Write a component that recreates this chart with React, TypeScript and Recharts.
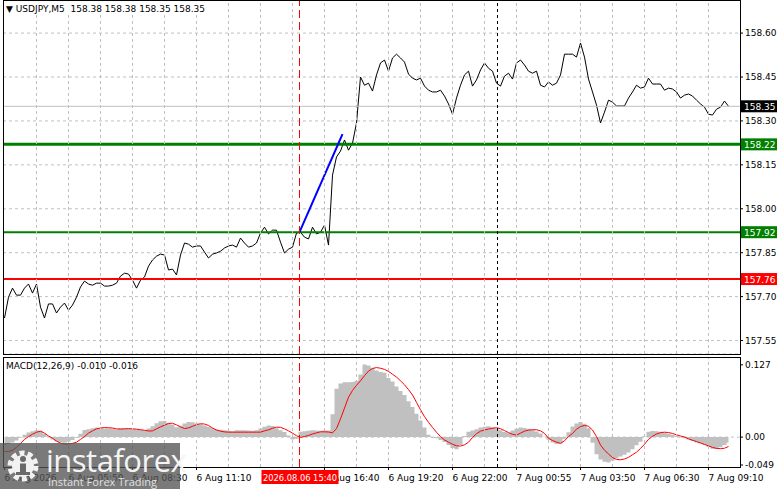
import {
  ComposedChart,
  Line,
  Area,
  XAxis,
  YAxis,
  CartesianGrid,
  ReferenceLine,
} from "recharts";

// USDJPY M5, one sample every 2 bars (x in bar units)
const prices = [
  157.627, 157.698, 157.729, 157.705, 157.705, 157.729, 157.743, 157.712, 157.743, 157.664,
  157.627, 157.675, 157.675, 157.644, 157.664, 157.678, 157.654, 157.671, 157.698, 157.733,
  157.753, 157.743, 157.739, 157.746, 157.746, 157.736, 157.736, 157.739, 157.746, 157.77,
  157.78, 157.777, 157.756, 157.729, 157.756, 157.767, 157.804, 157.825, 157.838, 157.845,
  157.842, 157.791, 157.794, 157.774, 157.842, 157.883, 157.879, 157.869, 157.873, 157.873,
  157.852, 157.832, 157.845, 157.849, 157.855, 157.866, 157.873, 157.876, 157.869, 157.9,
  157.883, 157.869, 157.873, 157.883, 157.917, 157.937, 157.914, 157.927, 157.927, 157.886,
  157.849, 157.862, 157.869, 157.917, 157.92, 157.903, 157.897, 157.937, 157.914, 157.92,
  157.944, 157.876, 158.115, 158.177, 158.197, 158.235, 158.2, 158.224, 158.293, 158.45,
  158.422, 158.429, 158.402, 158.457, 158.498, 158.508, 158.47, 158.515, 158.528, 158.515,
  158.501, 158.46, 158.446, 158.44, 158.446, 158.419, 158.405, 158.399, 158.399, 158.405,
  158.385, 158.358, 158.323, 158.378, 158.422, 158.457, 158.47, 158.419, 158.44, 158.474,
  158.498, 158.48, 158.47, 158.429, 158.419, 158.453, 158.463, 158.443, 158.498, 158.508,
  158.491, 158.47, 158.463, 158.47, 158.422, 158.416, 158.433, 158.422, 158.429, 158.457,
  158.528, 158.528, 158.528, 158.518, 158.566, 158.518, 158.443, 158.399, 158.354, 158.293,
  158.33, 158.371, 158.364, 158.351, 158.351, 158.351, 158.378, 158.399, 158.422, 158.412,
  158.416, 158.446, 158.426, 158.426, 158.426, 158.405, 158.412, 158.409, 158.399, 158.378,
  158.388, 158.392, 158.385, 158.371, 158.358, 158.347, 158.323, 158.32, 158.34, 158.347,
  158.368, 158.35,
];

const macdMain = [
  -0.0139, -0.012, -0.0095, -0.006, -0.001, 0.004, 0.008, 0.0105, 0.012, 0.011,
  0.006, 0.0005, -0.004, -0.0075, -0.009, -0.0099, -0.008, -0.005, -0.001, 0.006,
  0.0125, 0.014, 0.0155, 0.0168, 0.016, 0.015, 0.015, 0.0145, 0.0135, 0.015,
  0.015, 0.0145, 0.0142, 0.0135, 0.0128, 0.0122, 0.015, 0.019, 0.0245, 0.028,
  0.0284, 0.025, 0.022, 0.0175, 0.02, 0.024, 0.0265, 0.0262, 0.024, 0.0225,
  0.0205, 0.018, 0.0155, 0.0135, 0.0128, 0.012, 0.011, 0.0104, 0.012, 0.0122,
  0.0122, 0.0115, 0.011, 0.012, 0.015, 0.018, 0.0205, 0.0195, 0.0155, 0.012,
  0.009, 0.003, -0.004, -0.003, 0.0093, 0.0105, 0.0112, 0.0122, 0.0115, 0.011,
  0.0118, 0.0115, 0.04, 0.085, 0.094, 0.0962, 0.0962, 0.097, 0.099, 0.11,
  0.1275, 0.126, 0.122, 0.117, 0.1145, 0.113, 0.104, 0.0975, 0.089, 0.081,
  0.074, 0.063, 0.053, 0.041, 0.029, 0.017, 0.004, -0.001, -0.002, -0.005,
  -0.0085, -0.014, -0.019, -0.0215, -0.0139, 0.002, 0.0095, 0.0115, 0.014, 0.0168,
  0.018, 0.019, 0.0172, 0.0145, 0.0122, 0.009, 0.0075, 0.0115, 0.0145, 0.0168,
  0.016, 0.0145, 0.0125, 0.01, 0.0064, 0.0005, -0.0045, -0.0095, -0.012, -0.011,
  -0.003, 0.0085, 0.0185, 0.024, 0.0267, 0.0235, 0.0155, -0.01, -0.03, -0.0395,
  -0.0432, -0.0446, -0.0415, -0.037, -0.0342, -0.031, -0.027, -0.0215, -0.0145, -0.0081,
  0.001, 0.0095, 0.0108, 0.0102, 0.0093, 0.0075, 0.006, 0.004, 0.0015, -0.0006,
  -0.002, -0.004, -0.007, -0.0095, -0.011, -0.014, -0.0175, -0.0205, -0.021, -0.018,
  -0.014, -0.01,
];

const macdSignal = [
  -0.0255, -0.0255, -0.023, -0.018, -0.011, -0.004, 0.001, 0.005, 0.0085, 0.0104,
  0.007, 0.002, -0.002, -0.007, -0.0105, -0.0122, -0.012, -0.011, -0.009, -0.004,
  0.001, 0.007, 0.011, 0.0145, 0.016, 0.0168, 0.0165, 0.016, 0.0145, 0.0142,
  0.0145, 0.015, 0.0145, 0.014, 0.013, 0.012, 0.0108, 0.011, 0.0145, 0.018,
  0.021, 0.024, 0.0245, 0.0215, 0.018, 0.015, 0.0162, 0.019, 0.022, 0.0235,
  0.023, 0.0205, 0.016, 0.0125, 0.0104, 0.0092, 0.0087, 0.0087, 0.0087, 0.0087,
  0.0087, 0.0087, 0.0087, 0.0087, 0.0087, 0.011, 0.0128, 0.0155, 0.0175, 0.0172,
  0.0145, 0.011, 0.007, 0.0025, -0.0006, 0.001, 0.003, 0.0055, 0.0075, 0.0093,
  0.0093, 0.009, 0.0075, 0.015, 0.032, 0.051, 0.07, 0.082, 0.091, 0.099,
  0.108, 0.116, 0.1205, 0.1222, 0.121, 0.119, 0.1155, 0.1105, 0.1055, 0.099,
  0.092, 0.0835, 0.074, 0.061, 0.048, 0.036, 0.026, 0.017, 0.0085, 0.001,
  -0.005, -0.009, -0.0125, -0.0152, -0.0157, -0.0135, -0.009, -0.0006, 0.006, 0.0105,
  0.0125, 0.0142, 0.0155, 0.0165, 0.0148, 0.0115, 0.008, 0.005, 0.0035, 0.007,
  0.0105, 0.0122, 0.013, 0.013, 0.011, 0.0065, -0.002, -0.006, -0.0088, -0.011,
  -0.0065, 0.001, 0.0064, 0.014, 0.0185, 0.0205, 0.019, 0.0125, 0.001, -0.0139,
  -0.023, -0.0295, -0.036, -0.0392, -0.0398, -0.0385, -0.0355, -0.031, -0.0265, -0.02,
  -0.0125, -0.004, 0.0015, 0.0055, 0.0078, 0.0087, 0.008, 0.0065, 0.004, 0.002,
  0.0002, -0.003, -0.0055, -0.0078, -0.0102, -0.0128, -0.0155, -0.018, -0.0198, -0.0203,
  -0.0195, -0.0165,
];

const priceTicks = [158.6, 158.45, 158.3, 158.15, 158.0, 157.85, 157.7, 157.55];
const macdTicks = [0.127, 0, -0.049];
const gridBars = [16, 32, 48, 64, 80, 96, 112, 128, 144, 160, 176, 192, 208, 224, 240, 256, 272, 288, 304, 320, 336, 352];
const labelBars = [0, 32, 64, 96, 128, 160, 192, 224, 256, 288, 320, 352];
const timeLabels = [
  "6 Aug 2026", "6 Aug 05:50", "6 Aug 08:30", "6 Aug 11:10", "", "6 Aug 16:40",
  "6 Aug 19:20", "6 Aug 22:00", "7 Aug 00:55", "7 Aug 03:50", "7 Aug 06:30", "7 Aug 09:10",
];
const axisBars = [0, ...gridBars];

const lastPrice = 158.35;
const resistance = 158.22;
const support = 157.92;
const stopLevel = 157.76;
const cursorBar = 147.5;
const cursorTime = "2026.08.06 15:40";
const sessionBar = 246.5;
const trendFrom = { bar: 147.5, price: 157.92 };
const trendTo = { bar: 169, price: 158.255 };

const data = prices.map((p, i) => ({
  bar: i * 2,
  price: p,
  hist: macdMain[i],
  signal: macdSignal[i],
}));

const FONT = "'DejaVu Sans', Tahoma, sans-serif";
const CHART_W = 781;
const PLOT_LEFT = 3;
const AXIS_W = 41;
const MAIN_H = 355;
const MACD_H = 131;
const TIME_AXIS_H = 22;
// 2px per bar; the quarter-bar offset puts 1px lines on pixel centres
const X_DOMAIN: [number, number] = [-0.75, 367.75];
const GRID = "#c0c0c0";

function PriceTag({ viewBox, text, bg }: any) {
  if (!viewBox) return null;
  const x = viewBox.x + viewBox.width;
  const y = viewBox.y;
  return (
    <g>
      <rect x={x + 1} y={y - 6} width={36} height={12} fill={bg} />
      <text x={x + 4} y={y + 3.5} fill="#ffffff" fontSize={9} fontFamily={FONT}>
        {text}
      </text>
    </g>
  );
}

function CursorTag({ viewBox }: any) {
  if (!viewBox) return null;
  const cx = viewBox.x;
  const y = viewBox.y + viewBox.height;
  return (
    <g>
      <rect x={cx - 38} y={y + 3} width={77} height={14} fill="#ff0000" />
      <text x={cx + 0.5} y={y + 13.5} fill="#ffffff" fontSize={8.3} fontFamily={FONT} textAnchor="middle">
        {cursorTime}
      </text>
    </g>
  );
}

// vertical dashed grid line drawn from the axis up through the plot
function GridTick({ x, y, payload, span }: any) {
  if (!gridBars.includes(payload.value)) return <g />;
  return <line x1={x} x2={x} y1={y} y2={y - span} stroke={GRID} strokeDasharray="3 3" />;
}

function TimeTick({ x, y, payload }: any) {
  const idx = labelBars.indexOf(payload.value);
  const label = idx >= 0 ? timeLabels[idx] : "";
  return (
    <g>
      <GridTick x={x} y={y} payload={payload} span={MACD_H - TIME_AXIS_H} />
      {label ? (
        <>
          <line x1={x} x2={x} y1={y} y2={y + 3} stroke="#000" />
          <text x={x} y={y + 14} fill="#000" fontSize={9} fontFamily={FONT} textAnchor="start">
            {label}
          </text>
        </>
      ) : null}
    </g>
  );
}

function Gear() {
  return (
    <svg width={38} height={40} style={{ position: "absolute", left: 4, top: 3 }}>
      <circle cx={19} cy={20} r={13} fill="none" stroke="#f2f2f2" strokeWidth={5} strokeDasharray="5 3.2" />
      <circle cx={19} cy={20} r={11} fill="#f2f2f2" />
      <circle cx={19} cy={13} r={3} fill="#6a6a6a" />
      <rect x={16} y={17.5} width={6} height={10} fill="#6a6a6a" />
      <rect x={12} y={26} width={14} height={3} fill="#6a6a6a" />
    </svg>
  );
}

export default function App() {
  return (
    <div style={{ position: "relative", width: 781, height: 489, background: "#fff", fontFamily: FONT, overflow: "hidden" }}>
      <style>{"body{margin:0}"}</style>

      {/* price window */}
      <div style={{ position: "absolute", left: 0, top: 0 }}>
        <ComposedChart width={CHART_W} height={MAIN_H} data={data} margin={{ top: 0, right: 0, bottom: 0, left: PLOT_LEFT }}>
          <CartesianGrid stroke={GRID} strokeDasharray="3 3" vertical={false} />
          <XAxis
            type="number"
            dataKey="bar"
            domain={X_DOMAIN}
            ticks={gridBars}
            interval={0}
            height={1}
            tickSize={0}
            tickMargin={0}
            tickLine={false}
            axisLine={false}
            tick={(props: any) => <GridTick {...props} span={MAIN_H} />}
            allowDataOverflow
          />
          <YAxis
            orientation="right"
            width={AXIS_W}
            domain={[157.504, 158.713]}
            ticks={priceTicks}
            interval={0}
            tickFormatter={(v: number) => v.toFixed(2)}
            tick={{ fontSize: 9, fill: "#000", fontFamily: FONT }}
            tickLine={{ stroke: "#000" }}
            tickSize={3}
            axisLine={false}
            allowDataOverflow
          />
          <Line type="linear" dataKey="price" stroke="#000" strokeWidth={1} dot={false} isAnimationActive={false} />
          <ReferenceLine y={lastPrice} stroke="#c0c0c0" strokeWidth={1} label={<PriceTag text="158.35" bg="#000000" />} />
          <ReferenceLine y={resistance} stroke="#008000" strokeWidth={3} label={<PriceTag text="158.22" bg="#008000" />} />
          <ReferenceLine y={support} stroke="#008000" strokeWidth={2} label={<PriceTag text="157.92" bg="#008000" />} />
          <ReferenceLine y={stopLevel} stroke="#ff0000" strokeWidth={2} label={<PriceTag text="157.76" bg="#ff0000" />} />
          <ReferenceLine
            segment={[
              { x: trendFrom.bar, y: trendFrom.price },
              { x: trendTo.bar, y: trendTo.price },
            ]}
            stroke="#0000ff"
            strokeWidth={2}
          />
          <ReferenceLine x={sessionBar} stroke="#000" strokeDasharray="3 3" />
          <ReferenceLine x={cursorBar} stroke="#ff0000" strokeDasharray="8 4" />
        </ComposedChart>
      </div>
      <div style={{ position: "absolute", left: 3, top: 0, width: 738, height: 355, border: "1px solid #000", boxSizing: "border-box", pointerEvents: "none" }} />
      <div style={{ position: "absolute", left: 6, top: 3, fontSize: 9, whiteSpace: "pre", color: "#000", background: "#fff", lineHeight: "12px" }}>
        {"▼ USDJPY,M5  158.38 158.38 158.35 158.35"}
      </div>

      {/* MACD window */}
      <div style={{ position: "absolute", left: 0, top: 358 }}>
        <ComposedChart width={CHART_W} height={MACD_H} data={data} margin={{ top: 0, right: 0, bottom: 0, left: PLOT_LEFT }}>
          <XAxis
            type="number"
            dataKey="bar"
            domain={X_DOMAIN}
            ticks={axisBars}
            interval={0}
            height={TIME_AXIS_H}
            tickSize={0}
            tickMargin={0}
            tickLine={false}
            axisLine={false}
            tick={(props: any) => <TimeTick {...props} />}
            allowDataOverflow
          />
          <YAxis
            orientation="right"
            width={AXIS_W}
            domain={[-0.0525, 0.139]}
            ticks={macdTicks}
            interval={0}
            tickFormatter={(v: number) => (v === 0 ? "0.00" : String(v))}
            tick={{ fontSize: 9, fill: "#000", fontFamily: FONT }}
            tickLine={{ stroke: "#000" }}
            tickSize={3}
            axisLine={false}
            allowDataOverflow
          />
          <ReferenceLine y={0} stroke={GRID} strokeDasharray="3 3" />
          <Area
            type="step"
            dataKey="hist"
            baseValue={0}
            stroke="none"
            fill="#c0c0c0"
            fillOpacity={1}
            isAnimationActive={false}
          />
          <Line type="linear" dataKey="signal" stroke="#ff0000" strokeWidth={1} dot={false} isAnimationActive={false} />
          <ReferenceLine x={sessionBar} stroke="#000" strokeDasharray="3 3" />
          <ReferenceLine x={cursorBar} stroke="#ff0000" strokeDasharray="8 4" />
        </ComposedChart>
      </div>
      <div style={{ position: "absolute", left: 3, top: 357, width: 738, height: 111, border: "1px solid #000", boxSizing: "border-box", pointerEvents: "none" }} />
      <div style={{ position: "absolute", left: 6, top: 360, fontSize: 9, whiteSpace: "pre", color: "#000", lineHeight: "12px" }}>
        {"MACD(12,26,9) -0.010 -0.016"}
      </div>

      {/* time tag of the cursor, drawn above the time axis labels */}
      <div style={{ position: "absolute", left: 0, top: 358, pointerEvents: "none" }}>
        <ComposedChart width={CHART_W} height={MACD_H} data={data} margin={{ top: 0, right: AXIS_W, bottom: TIME_AXIS_H, left: PLOT_LEFT }}>
          <XAxis type="number" dataKey="bar" domain={X_DOMAIN} hide allowDataOverflow />
          <YAxis domain={[-0.0525, 0.139]} hide allowDataOverflow />
          <Line dataKey="signal" stroke="none" dot={false} isAnimationActive={false} />
          <ReferenceLine x={cursorBar} stroke="none" label={<CursorTag />} />
        </ComposedChart>
      </div>

      {/* watermark */}
      <div style={{ position: "absolute", left: 0, top: 443, width: 180, height: 46, background: "rgba(85,85,85,0.78)" }}>
        <Gear />
        <div style={{ position: "absolute", left: 46, top: -4, fontFamily: "'Open Sans', sans-serif", fontSize: 31, color: "#f4f4f4", letterSpacing: -0.5 }}>
          instaforex
        </div>
        <div style={{ position: "absolute", left: 48, top: 31, fontFamily: "'Open Sans', sans-serif", fontSize: 11, color: "#e0e0e0" }}>
          Instant Forex Trading
        </div>
      </div>
    </div>
  );
}
